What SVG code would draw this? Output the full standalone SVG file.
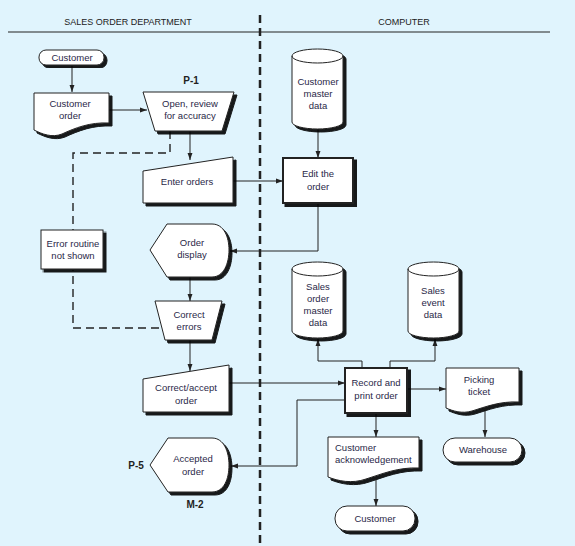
<svg xmlns="http://www.w3.org/2000/svg" width="575" height="546" viewBox="0 0 575 546">
<defs>
<style>
text{font-family:"Liberation Sans",Arial,sans-serif;font-size:9.5px;fill:#2a2848;text-anchor:middle}
.lbl{font-weight:bold;font-size:10px;fill:#222}
.ttl{font-size:9px;fill:#222}
.shp{fill:#fff;stroke:#222;stroke-width:1;filter:url(#sh)}
.thk{stroke-width:2}
.ln{fill:none;stroke:#222;stroke-width:1}
.dash{fill:none;stroke:#222;stroke-width:1.4;stroke-dasharray:8,5}
</style>
<filter id="sh" x="-10%" y="-10%" width="130%" height="130%">
<feOffset in="SourceAlpha" dx="2.5" dy="2.5" result="o"/>
<feComponentTransfer in="o" result="d"><feFuncA type="linear" slope="0.9"/></feComponentTransfer>
<feMerge><feMergeNode in="d"/><feMergeNode in="SourceGraphic"/></feMerge>
</filter>
<marker id="ar" viewBox="0 0 10 10" refX="10" refY="5" markerWidth="7" markerHeight="7" orient="auto" markerUnits="userSpaceOnUse">
<path d="M0,1.5 L10,5 L0,8.5 Z" fill="#222"/>
</marker>
</defs>
<rect width="575" height="546" fill="#e0f4fd"/>
<g id="header">
<text class="ttl" x="128" y="25">SALES ORDER DEPARTMENT</text>
<text class="ttl" x="404" y="25">COMPUTER</text>
<line x1="8" y1="32" x2="550" y2="32" stroke="#222" stroke-width="1.2"/>
<line x1="260" y1="15" x2="260" y2="546" stroke="#222" stroke-width="2.5" stroke-dasharray="8,5"/>
</g>
<g id="connectors">
<line class="ln" x1="72" y1="66" x2="72" y2="92" marker-end="url(#ar)"/>
<line class="ln" x1="109" y1="110" x2="147" y2="110" marker-end="url(#ar)"/>
<line class="ln" x1="190" y1="131" x2="190" y2="160" marker-end="url(#ar)"/>
<polyline class="dash" points="170,131 170,153 73,153 73,230"/>
<polyline class="dash" points="159,328 73,328 73,270"/>
<line class="ln" x1="233" y1="181" x2="283" y2="181" marker-end="url(#ar)"/>
<line class="ln" x1="318" y1="129" x2="318" y2="158" marker-end="url(#ar)"/>
<polyline class="ln" points="318,204 318,251 230,251" marker-end="url(#ar)"/>
<line class="ln" x1="190" y1="277" x2="190" y2="301" marker-end="url(#ar)"/>
<polyline class="ln" points="190,340 190,371" marker-end="url(#ar)"/>
<line class="ln" x1="229" y1="383" x2="345" y2="383" marker-end="url(#ar)"/>
<polyline class="ln" points="362,368 362,361 318,361 318,339" marker-end="url(#ar)"/>
<polyline class="ln" points="390,368 390,361 435,361 435,339" marker-end="url(#ar)"/>
<line class="ln" x1="407" y1="389" x2="446" y2="389" marker-end="url(#ar)"/>
<line class="ln" x1="485" y1="410" x2="485" y2="437" marker-end="url(#ar)"/>
<line class="ln" x1="376" y1="414" x2="376" y2="437" marker-end="url(#ar)"/>
<polyline class="ln" points="345,400 297,400 297,466 231,466" marker-end="url(#ar)"/>
<line class="ln" x1="376" y1="480" x2="376" y2="506" marker-end="url(#ar)"/>
</g>
<g id="customer-top">
<rect class="shp" x="39" y="50" width="65" height="15" rx="7"/>
<text x="72" y="61">Customer</text>
</g>
<g id="customer-order">
<path class="shp" d="M34,93 H109 V123 C90,122 75,128 62,134 C52,138 42,134 34,130 Z"/>
<text x="70" y="107">Customer</text>
<text x="70" y="119">order</text>
</g>
<g id="open-review">
<text class="lbl" x="191" y="84">P-1</text>
<path class="shp" d="M143,92 H234 L222,131 H155 Z"/>
<text x="190" y="107">Open, review</text>
<text x="190" y="119">for accuracy</text>
</g>
<g id="enter-orders">
<path class="shp" d="M143,171 L233,157 V203 H143 Z"/>
<text x="187" y="185">Enter orders</text>
</g>
<g id="customer-master">
<path class="shp" d="M292,56 A25.5,7 0 0 1 343,56 V122 A25.5,7 0 0 1 292,122 Z"/>
<path class="ln" d="M292,56 A25.5,7 0 0 0 343,56"/>
<text x="318" y="85">Customer</text>
<text x="318" y="97">master</text>
<text x="318" y="109">data</text>
</g>
<g id="edit-order">
<rect class="shp thk" x="283" y="158" width="70" height="45"/>
<text x="318" y="177">Edit the</text>
<text x="318" y="190">order</text>
</g>
<g id="error-routine">
<rect class="shp" x="41" y="230" width="62" height="39"/>
<text x="73" y="247">Error routine</text>
<text x="73" y="259">not shown</text>
</g>
<g id="order-display">
<path class="shp" d="M150,250 L167,224 H212 C224,224 229,237 229,250 C229,263 224,277 212,277 H167 Z"/>
<text x="192" y="246">Order</text>
<text x="192" y="258">display</text>
</g>
<g id="correct-errors">
<path class="shp" d="M155,301 H222 L212,340 H165 Z"/>
<text x="189" y="318">Correct</text>
<text x="189" y="330">errors</text>
</g>
<g id="correct-accept">
<path class="shp" d="M143,379 L229,365 V412 H143 Z"/>
<text x="186" y="391">Correct/accept</text>
<text x="186" y="404">order</text>
</g>
<g id="sales-order-master">
<path class="shp" d="M292,269 A25.5,7 0 0 1 343,269 V331 A25.5,7 0 0 1 292,331 Z"/>
<path class="ln" d="M292,269 A25.5,7 0 0 0 343,269"/>
<text x="318" y="290">Sales</text>
<text x="318" y="302">order</text>
<text x="318" y="314">master</text>
<text x="318" y="326">data</text>
</g>
<g id="sales-event">
<path class="shp" d="M408,269 A25.5,7 0 0 1 459,269 V331 A25.5,7 0 0 1 408,331 Z"/>
<path class="ln" d="M408,269 A25.5,7 0 0 0 459,269"/>
<text x="433" y="294">Sales</text>
<text x="433" y="306">event</text>
<text x="433" y="318">data</text>
</g>
<g id="record-print">
<rect class="shp thk" x="345" y="368" width="62" height="45"/>
<text x="376" y="386">Record and</text>
<text x="376" y="399">print order</text>
</g>
<g id="picking-ticket">
<path class="shp" d="M446,368 H519 V402 C500,401 485,407 472,411 C462,414 453,411 446,408 Z"/>
<text x="479" y="383">Picking</text>
<text x="479" y="395">ticket</text>
</g>
<g id="warehouse">
<rect class="shp" x="443" y="438" width="79" height="24" rx="12"/>
<text x="483" y="453">Warehouse</text>
</g>
<g id="customer-ack">
<path class="shp" d="M328,437 H419 V468 C398,467 382,474 366,479 C352,484 338,481 328,477 Z"/>
<text x="335" y="451" style="text-anchor:start">Customer</text>
<text x="335" y="463" style="text-anchor:start">acknowledgement</text>
</g>
<g id="customer-bottom">
<rect class="shp" x="335" y="506" width="80" height="25" rx="12"/>
<text x="375" y="522">Customer</text>
</g>
<g id="accepted-order">
<text class="lbl" x="136" y="469">P-5</text>
<path class="shp" d="M150,465 L168,438 H212 C224,438 229,452 229,465 C229,479 224,492 212,492 H168 Z"/>
<text x="193" y="462">Accepted</text>
<text x="193" y="475">order</text>
<text class="lbl" x="195" y="508">M-2</text>
</g>
</svg>
